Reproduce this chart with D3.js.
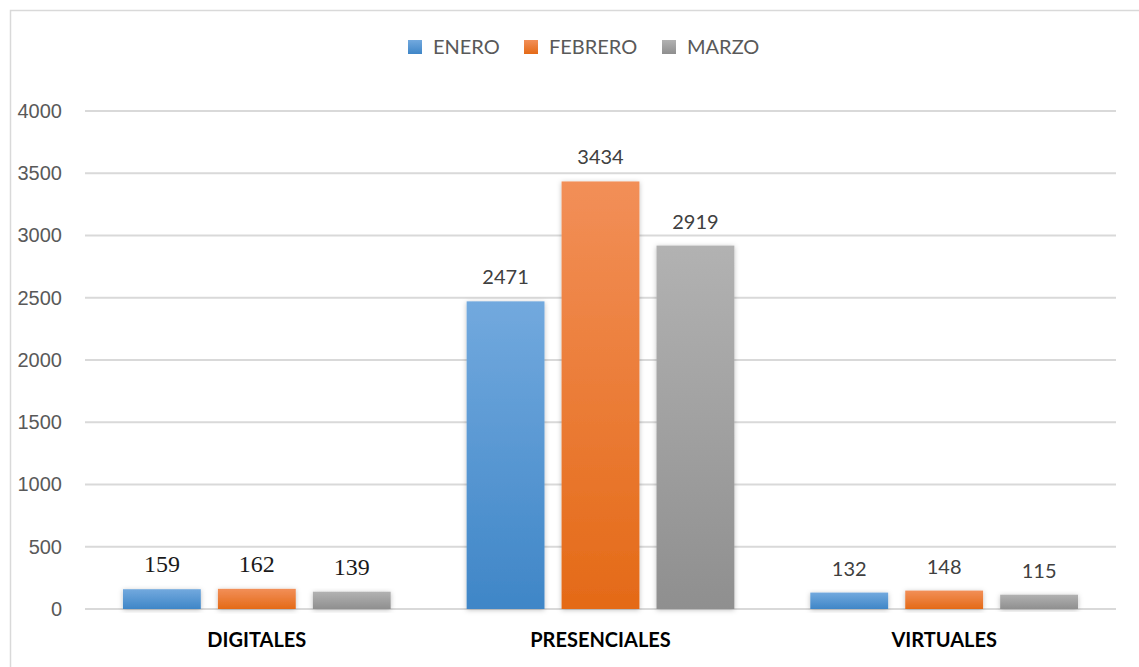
<!DOCTYPE html>
<html>
<head>
<meta charset="utf-8">
<script src="https://cdn.jsdelivr.net/npm/d3@7"></script>
<style>
    body { margin: 0; background: #fff; }
    svg { display: block; font-family: Lato, "Open Sans", sans-serif; }
    .tick text { fill: #595959; font-size: 20px; }
    .grid line { stroke: #d9d9d9; stroke-width: 2px; }
    .cat { fill: #000; font-size: 20px; font-weight: bold; }
    .legend text { fill: #595959; font-size: 20px; }
    .val { fill: #404040; font-size: 20px; }
    .val.serif { font-family: "Liberation Serif", "DejaVu Serif", serif; fill: #1a1a1a; font-size: 24px; }
</style>
</head>
<body>
<svg id="chart" width="1139" height="667"></svg>
<script>
    const categories = ['DIGITALES', 'PRESENCIALES', 'VIRTUALES'];
    const months = ['ENERO', 'FEBRERO', 'MARZO'];
    const enero = [159, 2471, 132];
    const febrero = [162, 3434, 148];
    const marzo = [139, 2919, 115];
    const yTicks = [0, 500, 1000, 1500, 2000, 2500, 3000, 3500, 4000];
    // the first group's labels were typed in a serif face in the original
    const serifLabels = [true, false, false];

    const series = [enero, febrero, marzo];
    const colors = [
        {top: '#72a9de', bottom: '#3f86c7'},
        {top: '#f28f58', bottom: '#e46a17'},
        {top: '#b2b2b2', bottom: '#8f8f8f'}
    ];

    const svg = d3.select('#chart');
    const margin = {left: 85, right: 23, top: 111, bottom: 58};
    const width = 1139, height = 667;

    // outer frame (left and top edges only visible)
    svg.append('path')
        .attr('d', 'M10.5,667 V10.5 H1139')
        .attr('fill', 'none')
        .attr('stroke', '#d9d9d9')
        .attr('stroke-width', 1.5);

    const defs = svg.append('defs');
    colors.forEach((c, i) => {
        const g = defs.append('linearGradient')
            .attr('id', 'grad' + i)
            .attr('x1', 0).attr('y1', 0).attr('x2', 0).attr('y2', 1);
        g.append('stop').attr('offset', '0%').attr('stop-color', c.top);
        g.append('stop').attr('offset', '100%').attr('stop-color', c.bottom);
    });
    const shadow = defs.append('filter').attr('id', 'shadow')
        .attr('x', '-20%').attr('y', '-20%').attr('width', '140%').attr('height', '140%');
    shadow.append('feDropShadow')
        .attr('dx', 0).attr('dy', 1).attr('stdDeviation', 2.5)
        .attr('flood-color', '#000').attr('flood-opacity', 0.25);

    const x = d3.scaleBand()
        .domain(categories)
        .range([margin.left, width - margin.right]);

    const xInner = d3.scaleBand()
        .domain(months)
        .range([0, x.bandwidth()])
        .paddingInner(0.18)
        .paddingOuter(0.4);

    const y = d3.scaleLinear()
        .domain([0, 4000])
        .range([height - margin.bottom, margin.top]);

    // grid
    svg.append('g')
        .attr('class', 'grid')
        .selectAll('line')
        .data(yTicks)
        .join('line')
        .attr('x1', margin.left)
        .attr('x2', width - margin.right)
        .attr('y1', d => y(d))
        .attr('y2', d => y(d));

    // y axis labels
    const yAxis = svg.append('g')
        .attr('transform', 'translate(' + (margin.left - 23) + ',0)')
        .call(d3.axisLeft(y).tickValues(yTicks).tickFormat(d3.format('d')).tickSize(0).tickPadding(0));
    yAxis.select('.domain').remove();
    yAxis.selectAll('text').attr('font-family', null).attr('font-size', null);

    // bars
    const groups = svg.append('g')
        .selectAll('g')
        .data(categories)
        .join('g')
        .attr('transform', d => 'translate(' + x(d) + ',0)');

    groups.each(function(cat, ci) {
        const g = d3.select(this);
        const rows = months.map((m, si) => ({month: m, si: si, value: series[si][ci]}));

        g.selectAll('rect')
            .data(rows)
            .join('rect')
            .attr('x', d => xInner(d.month))
            .attr('width', xInner.bandwidth())
            .attr('y', d => y(d.value))
            .attr('height', d => y(0) - y(d.value))
            .attr('fill', d => 'url(#grad' + d.si + ')')
            .attr('filter', 'url(#shadow)');

        g.selectAll('text')
            .data(rows)
            .join('text')
            .attr('class', serifLabels[ci] ? 'val serif' : 'val')
            .attr('text-anchor', 'middle')
            .attr('x', d => xInner(d.month) + xInner.bandwidth() / 2)
            .attr('y', d => y(d.value) - 17)
            .text(d => d.value);
    });

    // category labels
    svg.append('g')
        .selectAll('text')
        .data(categories)
        .join('text')
        .attr('class', 'cat')
        .attr('text-anchor', 'middle')
        .attr('x', d => x(d) + x.bandwidth() / 2)
        .attr('y', height - margin.bottom + 38)
        .text(d => d);

    // legend
    const legendX = [408, 524, 662];
    const legend = svg.append('g')
        .attr('class', 'legend')
        .selectAll('g')
        .data(months)
        .join('g')
        .attr('transform', (d, i) => 'translate(' + legendX[i] + ',40)');
    legend.append('rect')
        .attr('width', 14).attr('height', 14)
        .attr('fill', (d, i) => 'url(#grad' + i + ')');
    legend.append('text')
        .attr('x', 25)
        .attr('y', 14)
        .text(d => d);
</script>
</body>
</html>
